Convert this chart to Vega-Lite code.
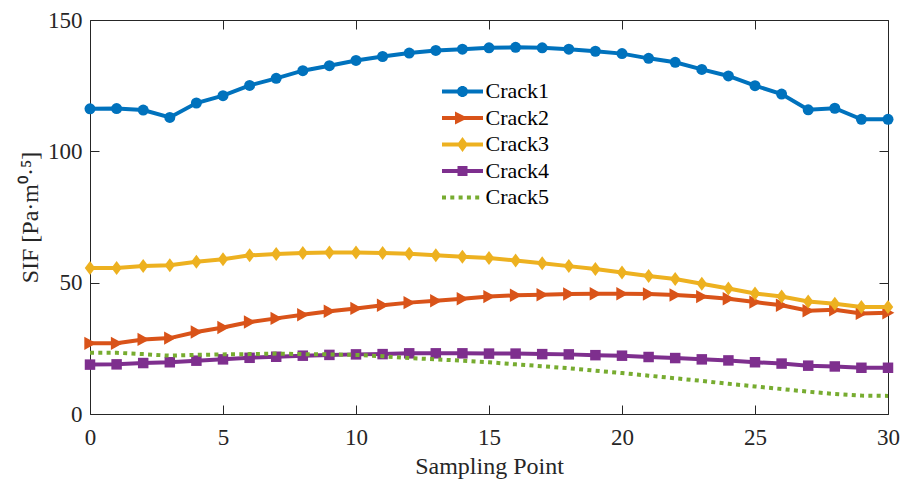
{
  "$schema": "https://vega.github.io/schema/vega-lite/v6.json",
  "width": 798,
  "height": 394,
  "autosize": {"type": "none"},
  "padding": {"left": 90, "top": 20, "right": 13, "bottom": 65},
  "background": "white",
  "config": {
    "view": {"stroke": null},
    "font": "Liberation Serif",
    "axis": {
      "labelFont": "Liberation Serif", "labelFontSize": 23, "labelColor": "#262626", "labelFlush": false,
      "titleFont": "Liberation Serif", "titleFontSize": 24, "titleFontWeight": "normal", "titleColor": "#262626",
      "domainColor": "#262626", "tickColor": "#262626", "grid": false, "tickSize": -9,
      "domainWidth": 1, "tickWidth": 1
    },
    "legend": {"labelFont": "Liberation Serif", "labelFontSize": 22, "labelColor": "black"}
  },
  "data": {"values": [
    {"point":0,"crack":"Crack1","sif":116.2},{"point":1,"crack":"Crack1","sif":116.3},{"point":2,"crack":"Crack1","sif":115.7},{"point":3,"crack":"Crack1","sif":112.9},{"point":4,"crack":"Crack1","sif":118.4},{"point":5,"crack":"Crack1","sif":121.2},{"point":6,"crack":"Crack1","sif":125.1},{"point":7,"crack":"Crack1","sif":127.8},{"point":8,"crack":"Crack1","sif":130.7},{"point":9,"crack":"Crack1","sif":132.6},{"point":10,"crack":"Crack1","sif":134.6},{"point":11,"crack":"Crack1","sif":136.1},{"point":12,"crack":"Crack1","sif":137.4},{"point":13,"crack":"Crack1","sif":138.4},{"point":14,"crack":"Crack1","sif":138.9},{"point":15,"crack":"Crack1","sif":139.4},{"point":16,"crack":"Crack1","sif":139.6},{"point":17,"crack":"Crack1","sif":139.4},{"point":18,"crack":"Crack1","sif":138.9},{"point":19,"crack":"Crack1","sif":138.1},{"point":20,"crack":"Crack1","sif":137.2},{"point":21,"crack":"Crack1","sif":135.4},{"point":22,"crack":"Crack1","sif":133.9},{"point":23,"crack":"Crack1","sif":131.2},{"point":24,"crack":"Crack1","sif":128.7},{"point":25,"crack":"Crack1","sif":125.0},{"point":26,"crack":"Crack1","sif":121.8},{"point":27,"crack":"Crack1","sif":115.8},{"point":28,"crack":"Crack1","sif":116.4},{"point":29,"crack":"Crack1","sif":112.2},{"point":30,"crack":"Crack1","sif":112.2},
    {"point":0,"crack":"Crack2","sif":26.9},{"point":1,"crack":"Crack2","sif":26.9},{"point":2,"crack":"Crack2","sif":28.4},{"point":3,"crack":"Crack2","sif":28.9},{"point":4,"crack":"Crack2","sif":31.2},{"point":5,"crack":"Crack2","sif":32.9},{"point":6,"crack":"Crack2","sif":35.0},{"point":7,"crack":"Crack2","sif":36.4},{"point":8,"crack":"Crack2","sif":37.8},{"point":9,"crack":"Crack2","sif":39.1},{"point":10,"crack":"Crack2","sif":40.2},{"point":11,"crack":"Crack2","sif":41.4},{"point":12,"crack":"Crack2","sif":42.4},{"point":13,"crack":"Crack2","sif":43.1},{"point":14,"crack":"Crack2","sif":43.9},{"point":15,"crack":"Crack2","sif":44.7},{"point":16,"crack":"Crack2","sif":45.2},{"point":17,"crack":"Crack2","sif":45.4},{"point":18,"crack":"Crack2","sif":45.7},{"point":19,"crack":"Crack2","sif":45.8},{"point":20,"crack":"Crack2","sif":45.8},{"point":21,"crack":"Crack2","sif":45.7},{"point":22,"crack":"Crack2","sif":45.3},{"point":23,"crack":"Crack2","sif":44.7},{"point":24,"crack":"Crack2","sif":43.9},{"point":25,"crack":"Crack2","sif":42.6},{"point":26,"crack":"Crack2","sif":41.4},{"point":27,"crack":"Crack2","sif":39.3},{"point":28,"crack":"Crack2","sif":39.7},{"point":29,"crack":"Crack2","sif":38.3},{"point":30,"crack":"Crack2","sif":38.5},
    {"point":0,"crack":"Crack3","sif":55.6},{"point":1,"crack":"Crack3","sif":55.6},{"point":2,"crack":"Crack3","sif":56.3},{"point":3,"crack":"Crack3","sif":56.6},{"point":4,"crack":"Crack3","sif":58.0},{"point":5,"crack":"Crack3","sif":58.9},{"point":6,"crack":"Crack3","sif":60.4},{"point":7,"crack":"Crack3","sif":60.9},{"point":8,"crack":"Crack3","sif":61.3},{"point":9,"crack":"Crack3","sif":61.5},{"point":10,"crack":"Crack3","sif":61.5},{"point":11,"crack":"Crack3","sif":61.3},{"point":12,"crack":"Crack3","sif":61.0},{"point":13,"crack":"Crack3","sif":60.4},{"point":14,"crack":"Crack3","sif":59.9},{"point":15,"crack":"Crack3","sif":59.4},{"point":16,"crack":"Crack3","sif":58.4},{"point":17,"crack":"Crack3","sif":57.4},{"point":18,"crack":"Crack3","sif":56.3},{"point":19,"crack":"Crack3","sif":55.2},{"point":20,"crack":"Crack3","sif":53.9},{"point":21,"crack":"Crack3","sif":52.5},{"point":22,"crack":"Crack3","sif":51.4},{"point":23,"crack":"Crack3","sif":49.6},{"point":24,"crack":"Crack3","sif":47.8},{"point":25,"crack":"Crack3","sif":45.9},{"point":26,"crack":"Crack3","sif":44.7},{"point":27,"crack":"Crack3","sif":42.8},{"point":28,"crack":"Crack3","sif":42.0},{"point":29,"crack":"Crack3","sif":40.7},{"point":30,"crack":"Crack3","sif":40.7},
    {"point":0,"crack":"Crack4","sif":18.8},{"point":1,"crack":"Crack4","sif":18.9},{"point":2,"crack":"Crack4","sif":19.4},{"point":3,"crack":"Crack4","sif":19.7},{"point":4,"crack":"Crack4","sif":20.3},{"point":5,"crack":"Crack4","sif":20.8},{"point":6,"crack":"Crack4","sif":21.4},{"point":7,"crack":"Crack4","sif":21.8},{"point":8,"crack":"Crack4","sif":22.2},{"point":9,"crack":"Crack4","sif":22.5},{"point":10,"crack":"Crack4","sif":22.7},{"point":11,"crack":"Crack4","sif":22.8},{"point":12,"crack":"Crack4","sif":23.1},{"point":13,"crack":"Crack4","sif":23.1},{"point":14,"crack":"Crack4","sif":23.1},{"point":15,"crack":"Crack4","sif":23.0},{"point":16,"crack":"Crack4","sif":23.0},{"point":17,"crack":"Crack4","sif":22.8},{"point":18,"crack":"Crack4","sif":22.7},{"point":19,"crack":"Crack4","sif":22.4},{"point":20,"crack":"Crack4","sif":22.2},{"point":21,"crack":"Crack4","sif":21.7},{"point":22,"crack":"Crack4","sif":21.3},{"point":23,"crack":"Crack4","sif":20.8},{"point":24,"crack":"Crack4","sif":20.4},{"point":25,"crack":"Crack4","sif":19.7},{"point":26,"crack":"Crack4","sif":19.2},{"point":27,"crack":"Crack4","sif":18.4},{"point":28,"crack":"Crack4","sif":18.1},{"point":29,"crack":"Crack4","sif":17.6},{"point":30,"crack":"Crack4","sif":17.6},
    {"point":0,"crack":"Crack5","sif":23.3},{"point":1,"crack":"Crack5","sif":23.3},{"point":2,"crack":"Crack5","sif":22.8},{"point":3,"crack":"Crack5","sif":22.2},{"point":4,"crack":"Crack5","sif":22.5},{"point":5,"crack":"Crack5","sif":22.7},{"point":6,"crack":"Crack5","sif":22.8},{"point":7,"crack":"Crack5","sif":23.0},{"point":8,"crack":"Crack5","sif":22.8},{"point":9,"crack":"Crack5","sif":22.7},{"point":10,"crack":"Crack5","sif":22.5},{"point":11,"crack":"Crack5","sif":22.0},{"point":12,"crack":"Crack5","sif":21.3},{"point":13,"crack":"Crack5","sif":20.8},{"point":14,"crack":"Crack5","sif":20.3},{"point":15,"crack":"Crack5","sif":19.7},{"point":16,"crack":"Crack5","sif":18.9},{"point":17,"crack":"Crack5","sif":18.2},{"point":18,"crack":"Crack5","sif":17.4},{"point":19,"crack":"Crack5","sif":16.5},{"point":20,"crack":"Crack5","sif":15.6},{"point":21,"crack":"Crack5","sif":14.6},{"point":22,"crack":"Crack5","sif":13.6},{"point":23,"crack":"Crack5","sif":12.6},{"point":24,"crack":"Crack5","sif":11.5},{"point":25,"crack":"Crack5","sif":10.5},{"point":26,"crack":"Crack5","sif":9.5},{"point":27,"crack":"Crack5","sif":8.5},{"point":28,"crack":"Crack5","sif":7.6},{"point":29,"crack":"Crack5","sif":7.0},{"point":30,"crack":"Crack5","sif":6.9}
  ]},
  "encoding": {
    "x": {"field": "point", "type": "quantitative", "scale": {"domain": [0, 30], "nice": false, "zero": false}, "axis": null},
    "y": {"field": "sif", "type": "quantitative", "scale": {"domain": [0, 150], "nice": false, "zero": false}, "axis": null}
  },
  "layer": [
    {
      "mark": {"type": "point", "filled": true, "opacity": 0},
      "encoding": {
        "x": {"field": "point", "type": "quantitative", "scale": {"domain": [0, 30], "nice": false, "zero": false},
              "axis": {"orient": "top", "labels": false, "title": null, "values": [0, 5, 10, 15, 20, 25, 30]}},
        "y": {"field": "sif", "type": "quantitative", "scale": {"domain": [0, 150], "nice": false, "zero": false},
              "axis": {"orient": "right", "labels": false, "title": null, "values": [0, 50, 100, 150]}},
        "color": {"field": "crack", "type": "nominal",
          "scale": {"domain": ["Crack1", "Crack2", "Crack3", "Crack4", "Crack5"], "range": ["#0072BD", "#D95319", "#EDB120", "#7E2F8E", "#77AC30"]},
          "legend": {"title": null, "orient": "none", "legendX": 361.5, "legendY": 60.4, "symbolSize": 400, "symbolOpacity": 1, "symbolStrokeWidth": 0,
                     "labelFont": "Liberation Serif", "labelFontSize": 22, "labelColor": "black", "labelOffset": 12, "rowPadding": 4.5, "padding": 0, "symbolOffset": 0}},
        "shape": {"field": "crack", "type": "nominal",
          "scale": {"domain": ["Crack1", "Crack2", "Crack3", "Crack4", "Crack5"], "range": [
            "M-2.05,-0.2H2.05V0.2H-2.05Z M-0.55,0C-0.55,-0.304 -0.304,-0.55 0,-0.55C0.304,-0.55 0.55,-0.304 0.55,0C0.55,0.304 0.304,0.55 0,0.55C-0.304,0.55 -0.55,0.304 -0.55,0Z",
            "M-2.05,-0.2H2.05V0.2H-2.05Z M-0.75,-0.65L0.55,0L-0.75,0.65Z",
            "M-2.05,-0.2H2.05V0.2H-2.05Z M0,-0.75L0.55,0L0,0.75L-0.55,0Z",
            "M-2.05,-0.2H2.05V0.2H-2.05Z M-0.5,-0.5H0.5V0.5H-0.5Z",
            "M-2.05,-0.2H-1.65V0.2H-2.05Z M-1.22,-0.2H-0.82V0.2H-1.22Z M-0.39,-0.2H0.01V0.2H-0.39Z M0.44,-0.2H0.84V0.2H0.44Z M1.27,-0.2H1.67V0.2H1.27Z"
          ]},
          "legend": {"title": null, "orient": "none", "legendX": 361.5, "legendY": 60.4, "symbolSize": 400, "symbolOpacity": 1, "symbolStrokeWidth": 0,
                     "labelFont": "Liberation Serif", "labelFontSize": 22, "labelColor": "black", "labelOffset": 12, "rowPadding": 4.5, "padding": 0, "symbolOffset": 0}}
      }
    },
    {
      "transform": [{"filter": "datum.crack === 'Crack1'"}],
      "mark": {"type": "line", "color": "#0072BD", "strokeWidth": 4},
      "encoding": {
        "x": {"field": "point", "type": "quantitative", "scale": {"domain": [0, 30], "nice": false, "zero": false},
              "axis": {"orient": "bottom", "title": "Sampling Point", "values": [0, 5, 10, 15, 20, 25, 30], "labelPadding": 21, "titlePadding": 5}},
        "y": {"field": "sif", "type": "quantitative", "scale": {"domain": [0, 150], "nice": false, "zero": false},
              "axis": {"orient": "left", "title": "SIF [Pa·m⁰·⁵]", "values": [0, 50, 100, 150], "labelPadding": 17, "titlePadding": 5}}
      }
    },
    {
      "transform": [{"filter": "datum.crack === 'Crack1'"}],
      "mark": {"type": "point", "shape": "circle", "filled": true, "opacity": 1, "size": 121, "color": "#0072BD"}
    },
    {
      "transform": [{"filter": "datum.crack === 'Crack2'"}],
      "mark": {"type": "line", "color": "#D95319", "strokeWidth": 4}
    },
    {
      "transform": [{"filter": "datum.crack === 'Crack2'"}],
      "mark": {"type": "point", "shape": "M-0.85,-1L0.95,0L-0.85,1Z", "filled": true, "opacity": 1, "size": 180, "color": "#D95319"}
    },
    {
      "transform": [{"filter": "datum.crack === 'Crack3'"}],
      "mark": {"type": "line", "color": "#EDB120", "strokeWidth": 4}
    },
    {
      "transform": [{"filter": "datum.crack === 'Crack3'"}],
      "mark": {"type": "point", "shape": "M0,-1L0.75,0L0,1L-0.75,0Z", "filled": true, "opacity": 1, "size": 196, "color": "#EDB120"}
    },
    {
      "transform": [{"filter": "datum.crack === 'Crack4'"}],
      "mark": {"type": "line", "color": "#7E2F8E", "strokeWidth": 4}
    },
    {
      "transform": [{"filter": "datum.crack === 'Crack4'"}],
      "mark": {"type": "point", "shape": "square", "filled": true, "opacity": 1, "size": 110, "color": "#7E2F8E"}
    },
    {
      "transform": [{"filter": "datum.crack === 'Crack5'"}],
      "mark": {"type": "line", "color": "#77AC30", "strokeWidth": 4, "strokeDash": [4, 4.3], "strokeCap": "butt"}
    }
  ],
  "resolve": {"axis": {"x": "independent", "y": "independent"}}
}
